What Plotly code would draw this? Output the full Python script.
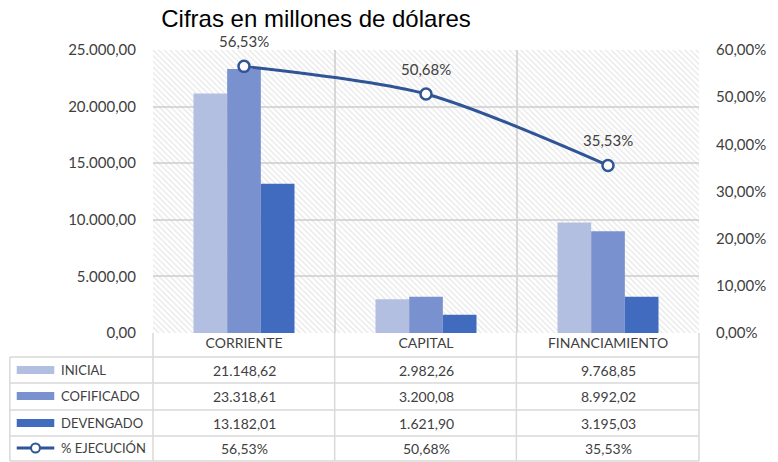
import plotly.graph_objects as go

# ---------------- data ----------------
categories = ["CORRIENTE", "CAPITAL", "FINANCIAMIENTO"]
inicial = [21148.62, 2982.26, 9768.85]
codificado = [23318.61, 3200.08, 8992.02]
devengado = [13182.01, 1621.90, 3195.03]
ejecucion = [0.5653, 0.5068, 0.3553]
series_names = ["INICIAL", "COFIFICADO", "DEVENGADO", "% EJECUCIÓN"]
title_text = "Cifras en millones de dólares"

# ---------------- layout geometry ----------------
W, H = 778, 462
L, R, T, B = 153, 72, 50, 129
PW, PH = W - L - R, H - T - B
Y_MAX, Y2_MAX = 25000, 0.6

def px(x):
    return (x - L) / PW

def py(y):
    return (H - B - y) / PH

def es_num(v):
    s = f"{v:,.2f}"
    return s.replace(",", "X").replace(".", ",").replace("X", ".")

def es_pct(v):
    return f"{v*100:.2f}%".replace(".", ",")

c_ini, c_cod, c_dev, c_line = "#B3BFE0", "#7A91CF", "#416BBE", "#2F5597"
grid = "#D9D9D9"
txt = "#404040"
FONT = "Lato"

fig = go.Figure()

# hatched plot background
fig.add_trace(go.Bar(
    x=[categories[1]], y=[Y_MAX], width=[3], offset=-1.5,
    marker=dict(color="rgba(0,0,0,0)", line=dict(width=0),
                pattern=dict(shape="\\", fgcolor="#CDCDCD", bgcolor="rgba(0,0,0,0)",
                             size=4, solidity=0.3)),
    hoverinfo="skip", showlegend=False))

for name, vals, col, off in [(series_names[0], inicial, c_ini, -0.2775),
                             (series_names[1], codificado, c_cod, -0.0925),
                             (series_names[2], devengado, c_dev, 0.0925)]:
    fig.add_trace(go.Bar(x=categories, y=vals, name=name, marker_color=col,
                         marker_line_width=0, width=0.185, offset=off,
                         showlegend=False))

fig.add_trace(go.Scatter(
    x=categories, y=ejecucion, yaxis="y2", name=series_names[3],
    mode="lines+markers",
    line=dict(color=c_line, width=3, shape="spline", smoothing=0.8),
    marker=dict(size=11, color="white", line=dict(color=c_line, width=2.5)),
    cliponaxis=False, showlegend=False))

annotations = []
# line labels
for c, v in zip(categories, ejecucion):
    annotations.append(dict(x=c, y=v, xref="x", yref="y2", text=es_pct(v),
                            showarrow=False, yshift=25,
                            font=dict(family=FONT, size=15, color=txt)))

# table
row_centers = [370, 396, 423, 448]
row_values = [[es_num(v) for v in inicial], [es_num(v) for v in codificado],
              [es_num(v) for v in devengado], [es_pct(v) for v in ejecucion]]
for yc, vals, nm in zip(row_centers, row_values, series_names):
    for c, s in zip(categories, vals):
        annotations.append(dict(x=c, y=py(yc), xref="x", yref="paper", text=s,
                                showarrow=False, yanchor="middle",
                                font=dict(family=FONT, size=14, color=txt)))
    annotations.append(dict(x=px(58), y=py(yc), xref="paper", yref="paper", text=nm,
                            showarrow=False, xanchor="left", yanchor="middle",
                            font=dict(family=FONT, size=13, color=txt)))

shapes = []
def hline(y, x0, x1):
    shapes.append(dict(type="line", xref="paper", yref="paper", x0=px(x0), x1=px(x1),
                       y0=py(y), y1=py(y), line=dict(color=grid, width=1.5)))
def vline(x, y0, y1):
    shapes.append(dict(type="line", xref="paper", yref="paper", x0=px(x), x1=px(x),
                       y0=py(y0), y1=py(y1), line=dict(color=grid, width=1.5)))

for y in [357, 383, 410, 436, 461]:
    hline(y, 8, 706)
vline(8, 357, 461)
for x in [153, 337, 521, 706]:
    vline(x, 333, 461)

# legend swatches
for yc, col in zip(row_centers[:3], [c_ini, c_cod, c_dev]):
    shapes.append(dict(type="rect", xref="paper", yref="paper", x0=px(15), x1=px(53),
                       y0=py(yc + 4), y1=py(yc - 4), fillcolor=col, line=dict(width=0)))
shapes.append(dict(type="line", xref="paper", yref="paper", x0=px(15), x1=px(53),
                   y0=py(448), y1=py(448), line=dict(color=c_line, width=3)))
shapes.append(dict(type="circle", xref="paper", yref="paper", x0=px(29.5), x1=px(38.5),
                   y0=py(452.5), y1=py(443.5), fillcolor="white",
                   line=dict(color=c_line, width=2)))

fig.update_layout(
    width=W, height=H,
    margin=dict(l=L, r=R, t=T, b=B),
    paper_bgcolor="white", plot_bgcolor="white",
    barmode="overlay",
    separators=",.",
    font=dict(family=FONT, color=txt),
    title=dict(text=title_text, x=316 / W, xref="container", xanchor="center",
               y=1 - 19 / H, yref="container", yanchor="middle",
               font=dict(family="Liberation Sans", size=24, color="#000000")),
    xaxis=dict(type="category", categoryorder="array", categoryarray=categories,
               range=[-0.5, 2.5], tickson="boundaries",
               showgrid=True, gridcolor=grid, gridwidth=1.5, ticks="",
               showline=False, tickfont=dict(family=FONT, size=14, color=txt)),
    yaxis=dict(range=[0, Y_MAX], dtick=5000, tickformat=",.2f", showgrid=True,
               gridcolor=grid, gridwidth=1.5, zeroline=False, showline=False,
               ticks="", ticklabelstandoff=16,
               tickfont=dict(family=FONT, size=15, color=txt)),
    yaxis2=dict(range=[0, Y2_MAX], dtick=0.1, tickformat=".2%", overlaying="y",
                side="right", showgrid=False, zeroline=False, showline=False,
                ticks="", ticklabelstandoff=16,
                tickfont=dict(family=FONT, size=15, color=txt)),
    annotations=annotations,
    shapes=shapes,
)

fig.write_html("out.html", config={"displayModeBar": False},
               post_script="document.body.style.margin='0';document.body.style.overflow='hidden';")
